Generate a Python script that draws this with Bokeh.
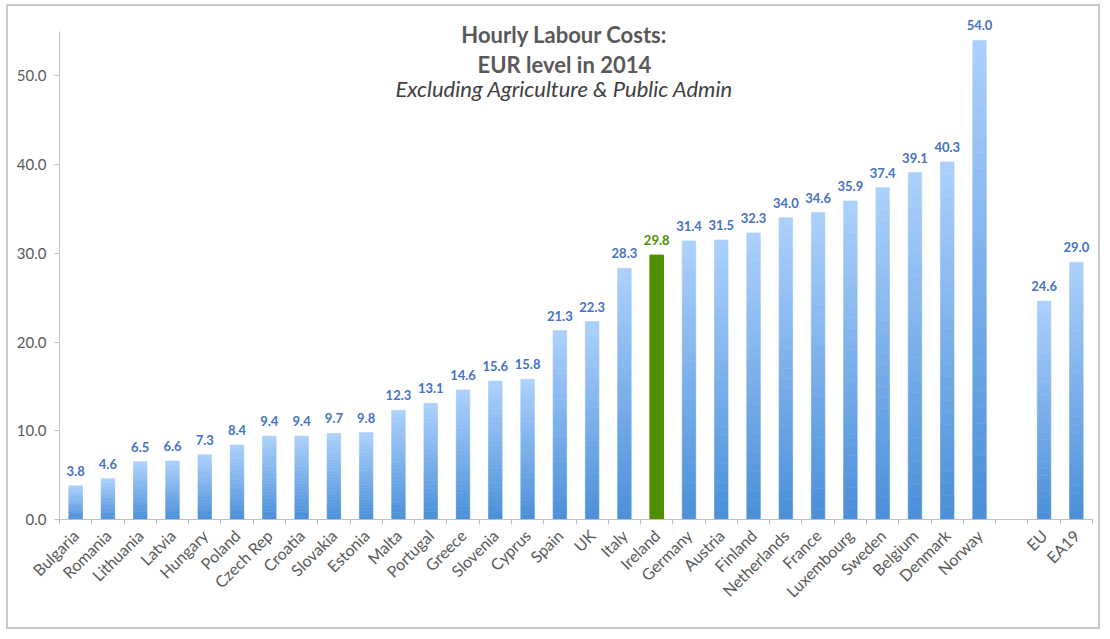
from bokeh.plotting import figure
from bokeh.models import (Range1d, FixedTicker, NumeralTickFormatter, Label,
                          LabelSet, ColumnDataSource)
from bokeh.embed import file_html
from bokeh.resources import INLINE
from bokeh.core.properties import value

# ---------------- data ----------------
categories = ["Bulgaria", "Romania", "Lithuania", "Latvia", "Hungary", "Poland",
              "Czech Rep", "Croatia", "Slovakia", "Estonia", "Malta", "Portugal",
              "Greece", "Slovenia", "Cyprus", "Spain", "UK", "Italy", "Ireland",
              "Germany", "Austria", "Finland", "Netherlands", "France", "Luxembourg",
              "Sweden", "Belgium", "Denmark", "Norway", "", "EU", "EA19"]
values = [3.8, 4.6, 6.5, 6.6, 7.3, 8.4, 9.4, 9.4, 9.7, 9.8, 12.3, 13.1,
          14.6, 15.6, 15.8, 21.3, 22.3, 28.3, 29.8, 31.4, 31.5, 32.3, 34.0,
          34.6, 35.9, 37.4, 39.1, 40.3, 54.0, None, 24.6, 29.0]
highlight = "Ireland"
y_ticks = [0, 10, 20, 30, 40, 50]
y_axis_max = 55

# ---------------- styling ----------------
TOP_RGB = (0xAD, 0xD1, 0xFC)
BOT_RGB = (0x4A, 0x8F, 0xD8)
GREEN = "#4E8F00"
LABEL_BLUE = "#4472C4"
GREY = "#595959"
AXIS_GREY = "#BFBFBF"
FONT = "Lato"
NSEG = 30
BAR_W = 0.42

def mix(frac):
    r = [round(b + (t - b) * frac) for t, b in zip(TOP_RGB, BOT_RGB)]
    return "#%02x%02x%02x" % tuple(r)

seg = dict(x=[], bottom=[], top=[], color=[])
hl = dict(x=[], top=[])
lab = dict(x=[], y=[], text=[], color=[])
for i, (c, v) in enumerate(zip(categories, values)):
    if v is None:
        continue
    lab["x"].append(i)
    lab["y"].append(v)
    lab["text"].append("%.1f" % v)
    if c == highlight:
        hl["x"].append(i)
        hl["top"].append(v)
        lab["color"].append(GREEN)
        continue
    lab["color"].append(LABEL_BLUE)
    for k in range(NSEG):
        seg["x"].append(i)
        seg["bottom"].append(v * k / NSEG)
        seg["top"].append(v * (k + 1) / NSEG)
        seg["color"].append(mix((k + 0.5) / NSEG))

n = len(categories)
# frame extends a little above the axis top so the value labels are not clipped
p = figure(width=1094, height=625,
           x_range=Range1d(-0.5, n - 0.5), y_range=Range1d(0, 57.03),
           output_backend="svg", toolbar_location=None,
           min_border_left=51, min_border_right=10,
           min_border_top=7, min_border_bottom=112)
p.styles = {"border": "2px solid #C8C8C8", "margin-left": "6px", "margin-top": "4px"}
p.outline_line_color = None
p.xgrid.visible = False
p.ygrid.visible = False
p.background_fill_color = "white"
p.border_fill_color = "white"

p.vbar(x="x", bottom="bottom", top="top", width=BAR_W,
       fill_color="color", line_color="color", line_width=0.6,
       source=ColumnDataSource(seg))
p.vbar(x="x", top="top", bottom=0, width=BAR_W,
       fill_color=GREEN, line_color=GREEN, source=ColumnDataSource(hl))

p.add_layout(LabelSet(x="x", y="y", text="text", text_color="color",
                      text_font=value(FONT), text_font_style="bold",
                      text_font_size="13px", text_align="center",
                      text_baseline="alphabetic", y_offset=10,
                      source=ColumnDataSource(lab)))

# x axis
xa = p.xaxis[0]
xa.ticker = FixedTicker(ticks=list(range(n)),
                        minor_ticks=[i - 0.5 for i in range(n + 1)])
xa.major_label_overrides = {i: c for i, c in enumerate(categories)}
xa.major_label_orientation = 0.785398
xa.major_tick_line_color = None
xa.major_tick_out = 0
xa.major_tick_in = 0
xa.minor_tick_out = 5
xa.minor_tick_in = 0
xa.minor_tick_line_color = AXIS_GREY
xa.axis_line_color = AXIS_GREY
xa.major_label_text_font = FONT
xa.major_label_text_font_size = "16px"
xa.major_label_text_color = GREY
xa.major_label_standoff = 8

# y axis
ya = p.yaxis[0]
ya.ticker = FixedTicker(ticks=y_ticks)
ya.formatter = NumeralTickFormatter(format="0.0")
ya.bounds = (0, y_axis_max)
ya.major_tick_out = 5
ya.major_tick_in = 0
ya.major_tick_line_color = AXIS_GREY
ya.minor_tick_line_color = None
ya.axis_line_color = AXIS_GREY
ya.major_label_text_font = FONT
ya.major_label_text_font_size = "15px"
ya.major_label_text_color = GREY
ya.major_label_standoff = 8

# title block
cx = 15.14
p.add_layout(Label(x=cx, y=54.65, text="Hourly Labour Costs:", text_align="center",
                   text_baseline="alphabetic", text_font=FONT, text_font_style="bold",
                   text_font_size="22px", text_color=GREY))
p.add_layout(Label(x=cx, y=51.25, text="EUR level in 2014", text_align="center",
                   text_baseline="alphabetic", text_font=FONT, text_font_style="bold",
                   text_font_size="22px", text_color=GREY))
p.add_layout(Label(x=cx, y=48.55, text="Excluding Agriculture & Public Admin",
                   text_align="center", text_baseline="alphabetic", text_font=FONT,
                   text_font_style="italic", text_font_size="22px", text_color="#404040"))

open("out.html", "w").write(file_html(p, INLINE))
